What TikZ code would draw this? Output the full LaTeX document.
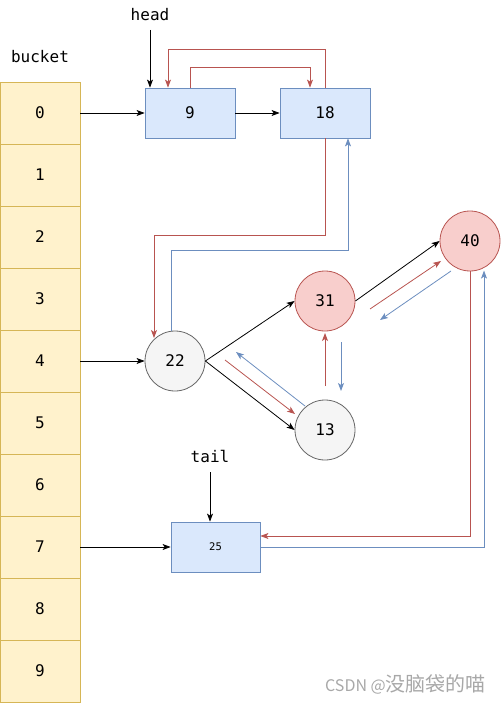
\documentclass[tikz,border=0pt]{standalone}
\usepackage{fontspec}
\setmainfont{DejaVu Sans Mono}
\newfontfamily\cjk{Noto Sans CJK SC}
\usetikzlibrary{arrows.meta}
\definecolor{bkfill}{HTML}{FFF2CC}
\definecolor{bkdraw}{HTML}{D6B656}
\definecolor{bxfill}{HTML}{DAE8FC}
\definecolor{bxdraw}{HTML}{6C8EBF}
\definecolor{rdfill}{HTML}{F8CECC}
\definecolor{rddraw}{HTML}{B85450}
\definecolor{gyfill}{HTML}{F5F5F5}
\definecolor{gydraw}{HTML}{666666}
\definecolor{wm}{HTML}{A8A8A8}
\tikzset{
  txt/.style={font=\fontsize{16}{18}\selectfont},
  cell/.style={txt, draw=bkdraw, fill=bkfill, line width=0.8pt, minimum width=80pt, minimum height=62pt, inner sep=0pt},
  box/.style={txt, draw=bxdraw, fill=bxfill, line width=0.8pt, minimum width=90pt, minimum height=50pt, inner sep=0pt},
  rcirc/.style={txt, circle, draw=rddraw, fill=rdfill, line width=0.8pt, minimum size=60pt, inner sep=0pt},
  gcirc/.style={txt, circle, draw=gydraw, fill=gyfill, line width=0.8pt, minimum size=60pt, inner sep=0pt},
  lbl/.style={txt, inner sep=0pt},
  arr/.style={line width=0.8pt, -{Stealth[length=8pt,width=6pt,inset=2pt]}},
  rarr/.style={arr, draw=rddraw, color=rddraw},
  barr/.style={arr, draw=bxdraw, color=bxdraw},
}
\begin{document}
\begin{tikzpicture}[x=1pt,y=-1pt]
\useasboundingbox (0,0) rectangle (501,703);
% bucket
\node[lbl] (bucket) at (40,57) {bucket};
\foreach \i in {0,...,9} {
  \node[cell] (b\i) at (40,{113+62*\i}) {\i};
}
% list boxes
\node[box] (n9) at (190,113) {9};
\node[box] (n18) at (325,113) {18};
\node[box, minimum width=89pt, font=\fontsize{10.5}{12}\selectfont] (n25) at (215.5,547) {25};
\node[gcirc] (n22) at (175,361) {22};
\node[gcirc] (n13) at (325,430) {13};
\node[rcirc] (n31) at (325,301) {31};
\node[rcirc] (n40) at (470,241) {40};
% head / tail
\node[lbl] (head) at (150,15) {head};
\node[lbl] (tail) at (210,456) {tail};
\coordinate (hs) at (150,30);
\coordinate (ts) at (210,472);
\draw[arr] (hs) -- (hs |- n9.north);
\draw[arr] (ts) -- (ts |- n25.north);
% black connectors
\draw[arr] (b0.east) -- (n9.west);
\draw[arr] (n9.east) -- (n18.west);
\draw[arr] (b4.east) -- (n22.west);
\draw[arr] (b7.east) -- (n25.west);
\draw[arr] (n22.east) -- (n31.west);
\draw[arr] (n22.east) -- (n13.west);
\draw[arr] (n31.east) -- (n40.west);
% red / blue links between 9 and 18
\draw[rarr] (n18.north) -- ++(0,-38) -| ([xshift=-22pt]n9.north);
\draw[rarr] (n9.north) -- ++(0,-20) -| ([xshift=-15pt]n18.north);
% 18 <-> 22
\draw[rarr] (n18.south) |- (154,235) -- (154,338);
\coordinate (c22t) at (171,331.3);
\draw[barr] (c22t) |- (348,250) -- ([xshift=23pt]n18.south);
% 22 <-> 13
\coordinate (r1s) at (225,360);
\coordinate (r1e) at (295,414);
\coordinate (b1s) at (305,406);
\coordinate (b1e) at (236,352);
\draw[rarr] (r1s) -- (r1e);
\draw[barr] (b1s) -- (b1e);
% 13 <-> 31
\coordinate (r2s) at (325,386);
\coordinate (r2e) at (325,333);
\coordinate (b2s) at (341,342);
\coordinate (b2e) at (341,391);
\draw[rarr] (r2s) -- (r2e);
\draw[barr] (b2s) -- (b2e);
% 31 <-> 40
\coordinate (r3s) at (370,309);
\coordinate (r3e) at (441,261);
\coordinate (b3s) at (451,271);
\coordinate (b3e) at (380,320);
\draw[rarr] (r3s) -- (r3e);
\draw[barr] (b3s) -- (b3e);
% 40 <-> 25
\draw[rarr] (n40.south) |- ([yshift=11pt]n25.east);
\draw[barr] (n25.east) -| (484,270.6);
% watermark
\node[inner sep=0pt, text=wm, anchor=east] (wmk) at (486,684) {\cjk\fontsize{16}{18}\selectfont CSDN @\fontsize{20}{22}\selectfont 没脑袋的喵};
\end{tikzpicture}
\end{document}
